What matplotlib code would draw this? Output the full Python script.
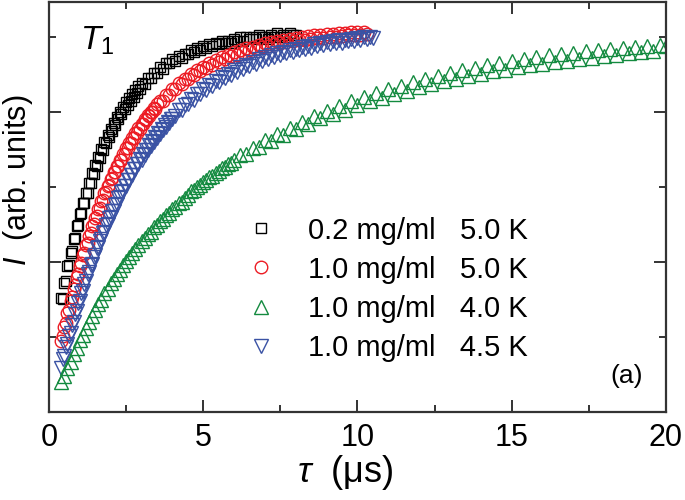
import numpy as np
import matplotlib
matplotlib.use("Agg")
import matplotlib.pyplot as plt

plt.rcParams['font.family'] = ['Liberation Sans', 'DejaVu Sans']
plt.rcParams['mathtext.fontset'] = 'custom'
plt.rcParams['mathtext.it'] = 'Liberation Sans:italic'
plt.rcParams['mathtext.rm'] = 'Liberation Sans'

# Intensity (arb. units), tau in microseconds.
# Each series: part a sampled every 0.05 us, part b every 0.1 us.

# 0.2 mg/ml 5.0 K : a = 0.40 .. 3.00, b = 3.1 .. 8.0
I_black_a = [0.305, 0.300, 0.345, 0.350, 0.390, 0.392, 0.425, 0.430, 0.462, 0.465,
             0.495, 0.498, 0.528, 0.530, 0.556, 0.558, 0.585, 0.584, 0.611, 0.610,
             0.636, 0.634, 0.659, 0.657, 0.681, 0.678, 0.701, 0.698, 0.720, 0.716,
             0.738, 0.734, 0.755, 0.750, 0.771, 0.766, 0.786, 0.781, 0.800, 0.794,
             0.814, 0.807, 0.826, 0.819, 0.838, 0.830, 0.849, 0.841, 0.859, 0.851,
             0.869, 0.860, 0.877]
I_black_b = [0.875, 0.89, 0.89, 0.905, 0.905, 0.92, 0.915, 0.93, 0.93, 0.94,
             0.935, 0.95, 0.945, 0.955, 0.955, 0.965, 0.96, 0.97, 0.965, 0.975,
             0.97, 0.98, 0.975, 0.985, 0.98, 0.99, 0.985, 0.99, 0.985, 0.995,
             0.99, 1.0, 0.99, 1.0, 0.995, 1.0, 0.995, 1.005, 1.0, 1.0,
             0.995, 1.005, 1.0, 1.01, 1.0, 1.005, 1.0, 1.01, 1.005, 1.005]

# 1.0 mg/ml 5.0 K : a = 0.40 .. 3.50, b = 3.6 .. 10.3
I_red_a = [0.189, 0.202, 0.227, 0.238, 0.263, 0.273, 0.297, 0.306, 0.329, 0.338,
           0.360, 0.368, 0.389, 0.397, 0.418, 0.424, 0.445, 0.451, 0.470, 0.476,
           0.495, 0.500, 0.518, 0.523, 0.541, 0.545, 0.562, 0.566, 0.583, 0.586,
           0.603, 0.605, 0.621, 0.623, 0.639, 0.641, 0.656, 0.657, 0.672, 0.673,
           0.688, 0.689, 0.703, 0.703, 0.717, 0.717, 0.731, 0.731, 0.744, 0.743,
           0.756, 0.755, 0.768, 0.767, 0.780, 0.778, 0.791, 0.789, 0.801, 0.799,
           0.811, 0.809, 0.820]
I_red_b = [0.829, 0.830, 0.846, 0.846, 0.862, 0.861, 0.876, 0.874, 0.889, 0.887,
           0.900, 0.898, 0.911, 0.908, 0.921, 0.918, 0.930, 0.926, 0.938, 0.934,
           0.946, 0.941, 0.952, 0.948, 0.959, 0.953, 0.964, 0.959, 0.970, 0.964,
           0.974, 0.968, 0.979, 0.973, 0.983, 0.977, 0.986, 0.980, 0.990, 0.983,
           0.992, 0.986, 0.995, 0.989, 0.998, 0.991, 1.000, 0.993, 1.002, 0.995,
           1.004, 0.997, 1.006, 0.998, 1.007, 1.000, 1.009, 1.001, 1.010, 1.003,
           1.011, 1.004, 1.012, 1.005, 1.013, 1.006, 1.013, 1.008]

# 1.0 mg/ml 4.5 K : a = 0.40 .. 4.00, b = 4.1 .. 10.5
I_blue_a = [0.117, 0.140, 0.149, 0.172, 0.181, 0.203, 0.211, 0.233, 0.241, 0.262,
            0.269, 0.290, 0.296, 0.316, 0.322, 0.342, 0.348, 0.367, 0.372, 0.391,
            0.395, 0.414, 0.418, 0.436, 0.440, 0.457, 0.461, 0.478, 0.481, 0.498,
            0.500, 0.517, 0.519, 0.535, 0.537, 0.553, 0.555, 0.570, 0.572, 0.587,
            0.588, 0.603, 0.603, 0.618, 0.618, 0.633, 0.633, 0.647, 0.647, 0.661,
            0.660, 0.674, 0.673, 0.687, 0.686, 0.699, 0.698, 0.711, 0.709, 0.722,
            0.721, 0.733, 0.731, 0.744, 0.742, 0.754, 0.752, 0.764, 0.761, 0.773,
            0.771, 0.782, 0.780]
I_blue_b = [0.788, 0.804, 0.804, 0.819, 0.820, 0.834, 0.833, 0.848, 0.847, 0.860,
            0.858, 0.872, 0.870, 0.883, 0.880, 0.893, 0.890, 0.902, 0.899, 0.911,
            0.907, 0.919, 0.915, 0.926, 0.922, 0.933, 0.929, 0.940, 0.935, 0.946,
            0.941, 0.951, 0.946, 0.956, 0.951, 0.961, 0.956, 0.965, 0.960, 0.969,
            0.964, 0.973, 0.968, 0.977, 0.971, 0.980, 0.975, 0.983, 0.978, 0.986,
            0.980, 0.989, 0.983, 0.991, 0.985, 0.993, 0.988, 0.995, 0.990, 0.997,
            0.992, 0.999, 0.994, 1.001, 0.998]

# 1.0 mg/ml 4.0 K : a = 0.4 .. 6.0 step 0.1, b = 6.2 .. 20.0 step 0.2
I_green_a = [0.080, 0.097, 0.118, 0.134, 0.154, 0.171, 0.191, 0.206, 0.225, 0.239,
             0.257, 0.271, 0.287, 0.299, 0.316, 0.328, 0.344, 0.354, 0.368, 0.379,
             0.392, 0.402, 0.414, 0.423, 0.435, 0.444, 0.456, 0.463, 0.474, 0.481,
             0.492, 0.499, 0.509, 0.515, 0.525, 0.531, 0.541, 0.547, 0.556, 0.561,
             0.571, 0.579, 0.588, 0.593, 0.601, 0.605, 0.614, 0.618, 0.626, 0.630,
             0.638, 0.642, 0.650, 0.653, 0.661, 0.664, 0.672]
I_green_b = [0.684, 0.688, 0.705, 0.706, 0.724, 0.723, 0.742, 0.739, 0.758, 0.754,
             0.774, 0.769, 0.789, 0.783, 0.803, 0.795, 0.816, 0.806, 0.828, 0.818,
             0.840, 0.829, 0.850, 0.838, 0.861, 0.849, 0.870, 0.857, 0.880, 0.866,
             0.889, 0.874, 0.896, 0.882, 0.904, 0.889, 0.911, 0.896, 0.917, 0.902,
             0.924, 0.909, 0.930, 0.913, 0.935, 0.920, 0.941, 0.925, 0.946, 0.929,
             0.951, 0.934, 0.955, 0.937, 0.958, 0.941, 0.962, 0.944, 0.966, 0.948,
             0.969, 0.952, 0.971, 0.956, 0.974, 0.959, 0.977, 0.962, 0.979, 0.976]


def taus(a, a0, a1, b, b0, b1):
    return np.concatenate([np.linspace(a0, a1, len(a)), np.linspace(b0, b1, len(b))])


tau_black = taus(I_black_a, 0.4, 3.0, I_black_b, 3.1, 8.0)
tau_red = taus(I_red_a, 0.4, 3.5, I_red_b, 3.6, 10.3)
tau_blue = taus(I_blue_a, 0.4, 4.0, I_blue_b, 4.1, 10.5)
tau_green = taus(I_green_a, 0.4, 6.0, I_green_b, 6.2, 20.0)

labels = ['0.2 mg/ml   5.0 K', '1.0 mg/ml   5.0 K',
          '1.0 mg/ml   4.0 K', '1.0 mg/ml   4.5 K']

fig = plt.figure(figsize=(6.85, 5.0), dpi=100)
ax = fig.add_axes([0.0715, 0.176, 0.9005, 0.82])

kw = dict(linestyle='none', markerfacecolor='none', markeredgewidth=1.0)
h1, = ax.plot(tau_black, I_black_a + I_black_b, marker='s', markersize=7, color='black', label=labels[0], **kw)
h2, = ax.plot(tau_red, I_red_a + I_red_b, marker='o', markersize=9, color='#ec1c24', label=labels[1], **kw)
h4, = ax.plot(tau_blue, I_blue_a + I_blue_b, marker='v', markersize=9.5, color='#3a52a4', label=labels[3], **kw)
h3, = ax.plot(tau_green, I_green_a + I_green_b, marker='^', markersize=9.5, color='#138a3f', label=labels[2], **kw)

ax.set_xlim(0, 20)
ax.set_ylim(0, 1.093)
ax.set_xticks([0, 5, 10, 15, 20])
ax.set_xticks([2.5, 7.5, 12.5, 17.5], minor=True)
ax.set_yticks([0.4, 0.8])
ax.set_yticks([0.2, 0.6, 1.0], minor=True)
ax.set_yticklabels([])
ax.tick_params(which='both', direction='in', top=True, right=True, width=1.4, color='#333333')
ax.tick_params(which='major', length=8.5, labelsize=22, pad=8)
ax.tick_params(which='minor', length=5)
for s in ax.spines.values():
    s.set_linewidth(1.6)
    s.set_color('#333333')

ax.set_xlabel(r'$\tau$  ($\mathrm{\mu}$s)', fontsize=26)
ax.xaxis.set_label_coords(0.48, -0.1)
ax.set_ylabel(r'$I$  (arb. units)', fontsize=22)
ax.yaxis.set_label_coords(-0.022, 0.565)

ax.text(0.05, 0.945, r'$T_1$', transform=ax.transAxes, fontsize=24, va='top', ha='left')
ax.text(0.937, 0.088, '(a)', transform=ax.transAxes, fontsize=19, va='center', ha='center')

ax.legend(handles=[h1, h2, h3, h4], loc='upper left', bbox_to_anchor=(0.301, 0.505),
          frameon=False, fontsize=21, handlelength=1.0, handletextpad=1.1,
          labelspacing=0.38, borderaxespad=0)

fig.savefig('out.png', dpi=100)
